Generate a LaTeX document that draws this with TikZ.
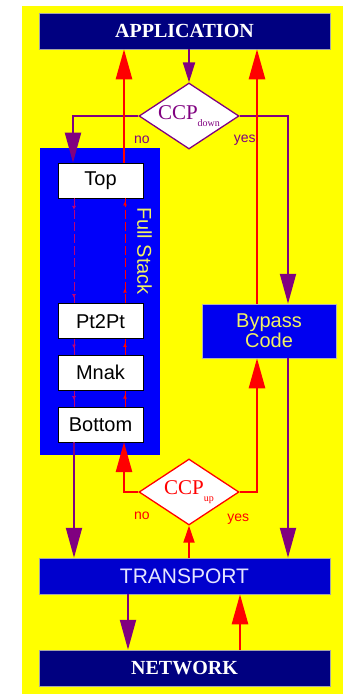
\documentclass[tikz,border=0pt]{standalone}
\usepackage{fontspec}
\setmainfont{Liberation Serif}
\setsansfont{Liberation Sans}
\usetikzlibrary{shapes.geometric, arrows.meta, positioning, decorations.markings}

\definecolor{bgyellow}{RGB}{255,255,0}
\definecolor{navy}{RGB}{0,0,128}
\definecolor{stackblue}{RGB}{0,0,250}
\definecolor{bypassblue}{RGB}{0,0,240}
\definecolor{transblue}{RGB}{0,0,205}
\definecolor{flowpurple}{RGB}{128,0,128}
\definecolor{innerpurple}{RGB}{190,0,120}
\definecolor{flowred}{RGB}{255,0,0}
\definecolor{paleyellow}{RGB}{240,240,100}

\newcommand{\ccpsub}[1]{\raisebox{-7pt}{\fontsize{10}{11}\selectfont #1}}

\begin{document}
\begin{tikzpicture}[
    x=1pt, y=-1pt,
    >={Triangle[length=30pt,width=16pt]},
    layer/.style     ={rectangle, draw=gray!70, line width=0.5pt,
                       minimum width=291pt, minimum height=36pt, text=white},
    navylayer/.style ={layer, fill=navy, font=\rmfamily\bfseries\fontsize{20}{22}\selectfont},
    translayer/.style={layer, fill=transblue, text=white!90!blue,
                       font=\sffamily\fontsize{21}{22}\selectfont},
    proto/.style     ={rectangle, draw=black, line width=0.6pt, fill=white,
                       minimum width=85pt, minimum height=35pt,
                       font=\sffamily\fontsize{20}{22}\selectfont},
    ccp/.style       ={diamond, aspect=1.5, fill=white, line width=1.3pt, inner sep=0pt,
                       minimum width=100pt, minimum height=66pt,
                       font=\rmfamily\fontsize{21}{22}\selectfont},
    pathdown/.style  ={draw=flowpurple, line width=2pt, ->},
    pathup/.style    ={draw=flowred, line width=2.6pt, ->},
    innerdn/.style   ={draw=innerpurple, line width=0.8pt, dash pattern=on 9pt off 3pt,
                       postaction={decorate}},
    innerup/.style   ={draw=flowred, line width=0.8pt, dash pattern=on 9pt off 3pt,
                       postaction={decorate}},
    lbl/.style       ={font=\sffamily\fontsize{14}{15}\selectfont, inner sep=0pt},
]

\useasboundingbox (0,0) rectangle (345,694);
\fill[bgyellow] (22,6) rectangle (343,694);

% ---- Layers ----
\node[navylayer]  (app)       at (184.5,31)  {APPLICATION};
\node[translayer] (transport) at (184.5,576) {TRANSPORT};
\node[navylayer]  (network)   at (184.5,668) {NETWORK};

% ---- Tests ----
\node[ccp, draw=flowpurple, text=flowpurple] (ccpdown) at (189,116)
  {CCP\ccpsub{down}};
\node[ccp, draw=flowred, text=flowred] (ccpup) at (189,492)
  {CCP\ccpsub{up}};

% ---- Full stack ----
\node[rectangle, fill=stackblue, minimum width=120pt, minimum height=307pt]
  (fullstack) at (100,301.5) {};
\node[proto] (top) at (100.5,180.5) {Top};
\node[proto, below=105pt of top]  (pt2pt)  {Pt2Pt};
\node[proto, below=16pt of pt2pt] (mnak)   {Mnak};
\node[proto, below=16pt of mnak]  (bottom) {Bottom};
\node[rotate=-90, text=paleyellow, font=\sffamily\fontsize{20}{22}\selectfont]
  (fslabel) at (144.5,251) {Full Stack};

% ---- Bypass ----
\node[rectangle, fill=bypassblue, draw=gray!60, line width=0.5pt,
      minimum width=134pt, minimum height=54pt, align=center, text=paleyellow,
      font=\sffamily\fontsize{20}{20}\selectfont] (bypass) at (269,331) {Bypass\\Code};

% ---- Arrows: down ----
\draw[pathdown, -{Triangle[length=20pt,width=12pt]}] (ccpdown.north |- app.south) -- (ccpdown.north);
\draw[pathdown] (ccpdown.west) -| ([xshift=-27.5pt]top.north);
\draw[pathdown] (ccpdown.east) -| ([xshift=19pt]bypass.north);
\draw[pathdown] ([xshift=-26.5pt]bottom.south) -- ([xshift=-26.5pt]bottom.south |- transport.north);
\draw[pathdown] ([xshift=19pt]bypass.south) -- ([xshift=19pt]bypass.south |- transport.north);
\draw[pathdown] ([xshift=-56.5pt]transport.south) -- ([xshift=-56.5pt]transport.south |- network.north);

% ---- Arrows: up ----
\draw[pathup] ([xshift=23.5pt]top.north) -- ([xshift=23.5pt]top.north |- app.south);
\draw[pathup] ([xshift=-12pt]bypass.north) -- ([xshift=-12pt]bypass.north |- app.south);
\draw[pathup] (ccpup.west) -| ([xshift=23.5pt]bottom.south);
\draw[pathup] (ccpup.east) -| ([xshift=-12pt]bypass.south);
\draw[pathup, line width=1.8pt, -{Triangle[length=17pt,width=11pt]}] (ccpup.south |- transport.north) -- (ccpup.south);
\draw[pathup] ([xshift=55.5pt]network.north) -- ([xshift=55.5pt]network.north |- transport.south);

% ---- Inside the stack ----
\draw[innerdn, decoration={markings,
      mark=at position 0.11 with {\arrow{Latex[length=4pt,width=4pt]}},
      mark=at position 0.95 with {\arrow{Latex[length=4pt,width=4pt]}}}]
  ([xshift=-26.5pt]top.south) -- ([xshift=-26.5pt]pt2pt.north);
\draw[innerup, decoration={markings,
      mark=at position 0.14 with {\arrow{Latex[length=4pt,width=4pt]}},
      mark=at position 0.97 with {\arrow{Latex[length=4pt,width=4pt]}}}]
  ([xshift=24.5pt]pt2pt.north) -- ([xshift=24.5pt]top.south);
\foreach \a/\b in {pt2pt/mnak, mnak/bottom} {
  \draw[innerdn, solid, decoration={markings,
        mark=at position 0.6 with {\arrow{Latex[length=4pt,width=4pt]}}}]
    ([xshift=-26.5pt]\a.south) -- ([xshift=-26.5pt]\b.north);
  \draw[innerup, solid, decoration={markings,
        mark=at position 0.75 with {\arrow{Latex[length=4pt,width=4pt]}}}]
    ([xshift=24.5pt]\b.north) -- ([xshift=24.5pt]\a.south);
}

% ---- Labels ----
\node[lbl, text=flowpurple] (nodn)  at ([xshift=3.5pt,yshift=-24pt]ccpdown.west) {no};
\node[lbl, text=flowpurple] (yesdn) at ([xshift=5pt,yshift=-24pt]ccpdown.east)  {yes};
\node[lbl, text=flowred]    (noup)  at ([xshift=3.5pt,yshift=-24pt]ccpup.west)   {no};
\node[lbl, text=flowred]    (yesup) at ([xshift=-1.5pt,yshift=-27pt]ccpup.east)  {yes};

\end{tikzpicture}
\end{document}
